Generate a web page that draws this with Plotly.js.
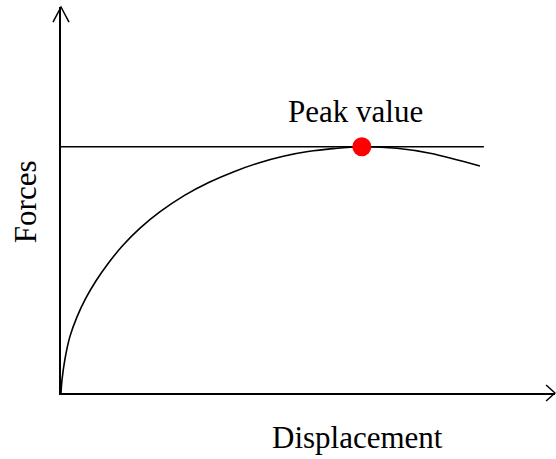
<!DOCTYPE html>
<html>
<head>
<meta charset="utf-8">
<script src="https://cdn.plot.ly/plotly-3.0.1.min.js"></script>
<style>html,body{margin:0;padding:0;background:#fff;}#chart{width:556px;height:459px;}</style>
</head>
<body>
<div id="chart"></div>
<script>
// Force–displacement curve (arbitrary units)
var displacement = [0, 0.02, 0.08, 0.18, 0.32, 0.5, 0.7, 0.95, 1.25, 1.6, 2.0, 2.5, 3.0, 3.5, 4.0, 4.5, 5.0, 5.5, 6.09, 6.8, 7.47, 8.48];
var forces       = [0, 0.34, 0.88, 1.46, 1.96, 2.45, 2.89, 3.35, 3.82, 4.27, 4.69, 5.12, 5.46, 5.735, 5.96, 6.135, 6.255, 6.33, 6.38, 6.34, 6.21, 5.88];
var peakDisplacement = [6.09];
var peakForce = [6.38];
var peakLineX = [0, 8.56];
var peakLineY = [6.38, 6.38];
var labels = {x: "Displacement", y: "Forces", peak: "Peak value"};

var serif = "Liberation Serif, Times New Roman, serif";

var traces = [
  {x: peakLineX, y: peakLineY, mode: "lines", line: {color: "#000", width: 1.5}, hoverinfo: "skip"},
  {x: displacement, y: forces, mode: "lines", line: {color: "#000", width: 1.6, shape: "spline", smoothing: 1}, hoverinfo: "skip"},
  {x: peakDisplacement, y: peakForce, mode: "markers", marker: {color: "#ff0000", size: 19}, hoverinfo: "skip"}
];

var axisBase = {range: [0, 10], showline: true, linecolor: "#000", linewidth: 2, showgrid: false,
  zeroline: false, showticklabels: false, ticks: "", fixedrange: true};

var layout = {
  width: 556, height: 459,
  margin: {l: 61, r: 1, t: 7, b: 66},
  paper_bgcolor: "#fff", plot_bgcolor: "#fff",
  showlegend: false,
  xaxis: Object.assign({}, axisBase),
  yaxis: Object.assign({}, axisBase),
  shapes: [
    {type: "path", xref: "paper", yref: "paper", path: "M -0.0162 0.961 L 0 1 L 0.0162 0.961", line: {color: "#000", width: 1.5}},
    {type: "path", xref: "paper", yref: "paper", path: "M 0.982 0.0207 L 1 0 L 0.982 -0.0207", line: {color: "#000", width: 1.5}}
  ],
  annotations: [
    {text: labels.peak, xref: "paper", yref: "paper", x: 0.597, y: 0.728, showarrow: false, xanchor: "center", yanchor: "middle", font: {family: serif, size: 31, color: "#000"}},
    {text: labels.x, xref: "paper", yref: "paper", x: 0.601, y: -0.114, showarrow: false, xanchor: "center", yanchor: "middle", font: {family: serif, size: 31, color: "#000"}},
    {text: labels.y, xref: "paper", yref: "paper", x: -0.0729, y: 0.497, showarrow: false, textangle: -90, xanchor: "center", yanchor: "middle", font: {family: serif, size: 31, color: "#000"}}
  ]
};

Plotly.newPlot("chart", traces, layout, {staticPlot: true, displayModeBar: false});
</script>
</body>
</html>
